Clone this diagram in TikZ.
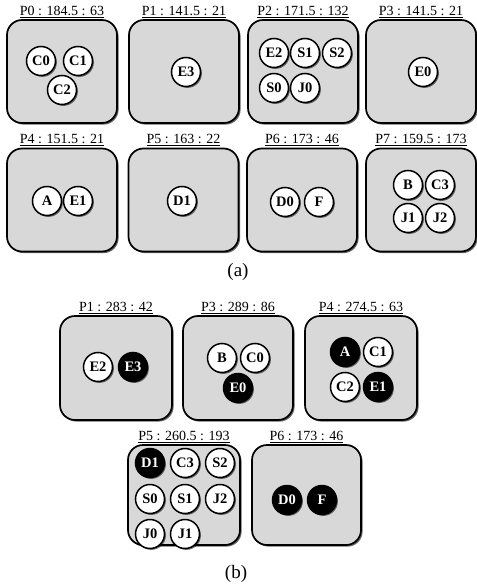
\documentclass[tikz,border=0pt]{standalone}
\usepackage{fontspec}
\setmainfont{Liberation Serif}
\usetikzlibrary{shadows}
\definecolor{boxgray}{RGB}{216,216,216}
\begin{document}
\begin{tikzpicture}[x=1pt,y=-1pt,
  pbox/.style={draw, line width=1.7pt, fill=boxgray, rounded corners=15pt,
    minimum width=110pt, minimum height=103pt, inner sep=0,
    drop shadow={shadow xshift=1.6pt, shadow yshift=-1.6pt, opacity=0.6, fill=black}},
  proc/.style={circle, draw, line width=1.5pt, fill=white, minimum size=29pt, inner sep=0,
    font=\fontsize{14.5}{14.5}\selectfont\bfseries,
    drop shadow={shadow xshift=1.4pt, shadow yshift=-1.4pt, opacity=0.55, fill=black}},
  hot/.style={proc, fill=black, text=white},
  plbl/.style={anchor=south, inner sep=0, font=\fontsize{14}{14}\selectfont},
  captxt/.style={font=\fontsize{19}{19}\selectfont}
]
\useasboundingbox (0,0) rectangle (476,585);
\fill[white] (0,0) rectangle (476,585);

% ---------- (a) ----------
\node[pbox] (a0) at (62,71.5) {};
\node[pbox] (a1) at (184,71.5) {};
\node[pbox] (a2) at (303,71.5) {};
\node[pbox] (a3) at (421,71.5) {};
\node[pbox] (a4) at (62,200) {};
\node[pbox] (a5) at (183.5,200) {};
\node[pbox] (a6) at (302,200) {};
\node[pbox] (a7) at (421,200) {};

\node[plbl] (la0) at ([yshift=1.5pt]a0.north) {\underline{P0 : 184.5 : 63}};
\node[plbl] (la1) at ([yshift=1.5pt]a1.north) {\underline{P1 : 141.5 : 21}};
\node[plbl] (la2) at ([yshift=1.5pt]a2.north) {\underline{P2 : 171.5 : 132}};
\node[plbl] (la3) at ([yshift=1.5pt]a3.north) {\underline{P3 : 141.5 : 21}};
\node[plbl] (la4) at ([yshift=1.5pt]a4.north) {\underline{P4 : 151.5 : 21}};
\node[plbl] (la5) at ([yshift=1.5pt]a5.north) {\underline{P5 : 163 : 22}};
\node[plbl] (la6) at ([yshift=1.5pt]a6.north) {\underline{P6 : 173 : 46}};
\node[plbl] (la7) at ([yshift=1.5pt]a7.north) {\underline{P7 : 159.5 : 173}};

\node[proc] (aC0) at (41,61) {C0};
\node[proc] (aC1) at (78,61) {C1};
\node[proc] (aC2) at (62,90) {C2};
\node[proc] (aE3) at (186,72) {E3};
\node[proc] (aE2) at (274,53) {E2};
\node[proc] (aS1) at (305,53) {S1};
\node[proc] (aS2) at (337,53) {S2};
\node[proc] (aS0) at (274,88) {S0};
\node[proc] (aJ0) at (305,88) {J0};
\node[proc] (aE0) at (423,72) {E0};
\node[proc] (aA)  at (47,201) {A};
\node[proc] (aE1) at (78,201) {E1};
\node[proc] (aD1) at (182,201) {D1};
\node[proc] (aD0) at (285,202) {D0};
\node[proc] (aF)  at (319,202) {F};
\node[proc] (aB)  at (408,185) {B};
\node[proc] (aC3) at (440,185) {C3};
\node[proc] (aJ1) at (408,218) {J1};
\node[proc] (aJ2) at (440,218) {J2};

\node[captxt] (capa) at (238,272) {(a)};

% ---------- (b) ----------
\node[pbox, minimum width=112pt, minimum height=104pt] (b1) at (116,368) {};
\node[pbox, minimum width=110pt, minimum height=104pt] (b3) at (238,368) {};
\node[pbox, minimum width=112pt, minimum height=104pt] (b4) at (361,368) {};
\node[pbox, minimum width=112pt, minimum height=100pt] (b5) at (184,495) {};
\node[pbox, minimum width=109pt, minimum height=100pt] (b6) at (306.5,495) {};

\node[plbl] (lb1) at ([yshift=1.5pt]b1.north) {\underline{P1 : 283 : 42}};
\node[plbl] (lb3) at ([yshift=1.5pt]b3.north) {\underline{P3 : 289 : 86}};
\node[plbl] (lb4) at ([yshift=1.5pt]b4.north) {\underline{P4 : 274.5 : 63}};
\node[plbl] (lb5) at ([yshift=1.5pt]b5.north) {\underline{P5 : 260.5 : 193}};
\node[plbl] (lb6) at ([yshift=1.5pt]b6.north) {\underline{P6 : 173 : 46}};

\node[proc] (bE2) at (98,367) {E2};
\node[hot]  (bE3) at (133,367) {E3};
\node[proc] (bB)  at (222,358) {B};
\node[proc] (bC0) at (255,358) {C0};
\node[hot]  (bE0) at (238,388) {E0};
\node[hot]  (bA)  at (345,352) {A};
\node[proc] (bC1) at (378,352) {C1};
\node[proc] (bC2) at (345,387) {C2};
\node[hot]  (bE1) at (378,387) {E1};
\node[hot]  (bD1) at (150,463) {D1};
\node[proc] (bC3) at (185,463) {C3};
\node[proc] (bS2) at (220,463) {S2};
\node[proc] (bS0) at (150,499) {S0};
\node[proc] (bS1) at (185,499) {S1};
\node[proc] (bJ2) at (220,499) {J2};
\node[proc] (bJ0) at (150,534) {J0};
\node[proc] (bJ1) at (185,534) {J1};
\node[hot]  (bD0) at (287,500) {D0};
\node[hot]  (bF)  at (322,500) {F};

\node[captxt] (capb) at (236,574) {(b)};
\end{tikzpicture}
\end{document}
